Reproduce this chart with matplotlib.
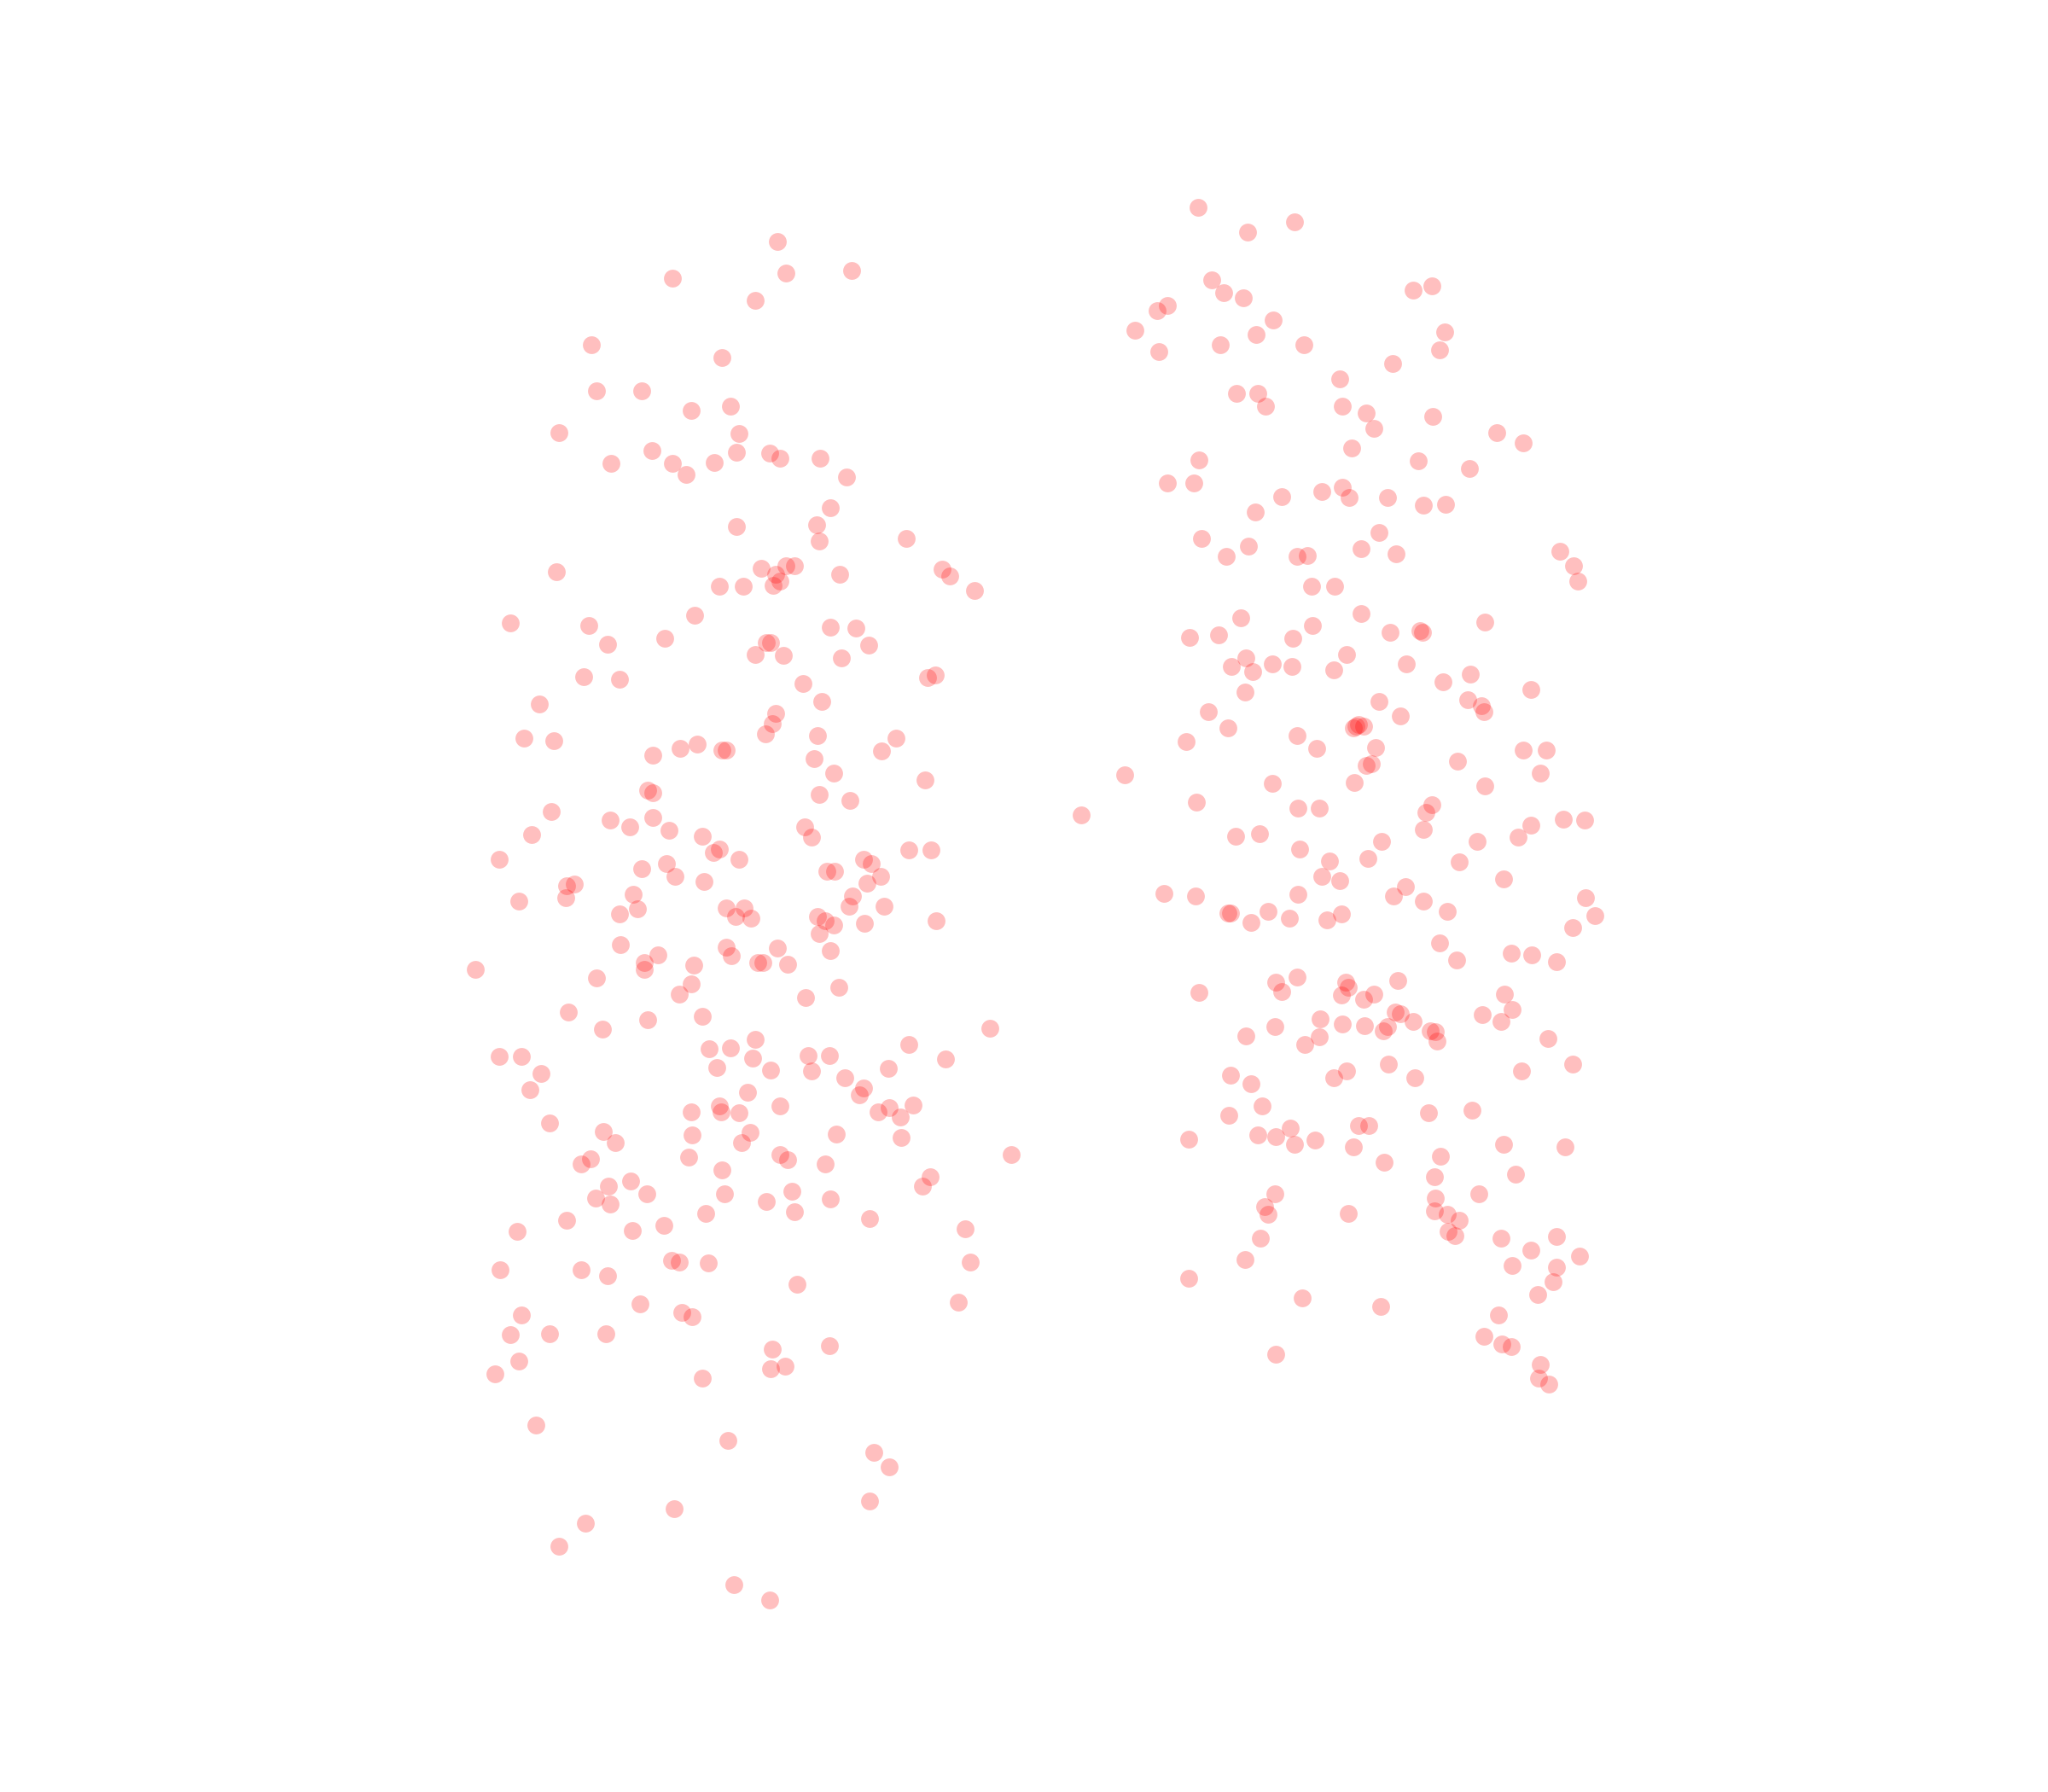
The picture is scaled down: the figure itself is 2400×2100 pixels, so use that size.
"""Two clusters of faint red dots, no axes."""
import matplotlib
matplotlib.use('Agg')
import matplotlib.pyplot as plt

# point positions (x right, y down, canvas 1568 x 1372)
left_pts = [
    (595, 185), (515, 213), (602, 209), (652, 207), (578, 230), (453, 264), (553, 274),
    (457, 299), (491, 299), (529, 314), (559, 311), (428, 331), (566, 332),
    (468, 355), (499, 345), (515, 355), (525, 363), (547, 354), (564, 346), (589, 347),
    (597, 351), (628, 351), (648, 365), (636, 389),
    (564, 403), (625, 402), (627, 414), (694, 412),
    (426, 438), (583, 435), (594, 440), (602, 433), (608, 433), (597, 445), (592, 448),
    (643, 440), (551, 449), (569, 449), (721, 436), (727, 441), (746, 452),
    (391, 477), (451, 479), (532, 471), (636, 480), (655, 481),
    (465, 493), (509, 489), (587, 492), (590, 492), (578, 501), (600, 502), (665, 494), (644, 504),
    (447, 518), (474, 520), (615, 523), (710, 519), (716, 517), (413, 539), (629, 537),
    (401, 565), (424, 567), (594, 546), (591, 554), (586, 562), (626, 563), (521, 573),
    (534, 570), (553, 574), (556, 574), (675, 575), (686, 565), (500, 578), (623, 581),
    (638, 592), (708, 597), (496, 605), (500, 607), (627, 608), (651, 613),
    (422, 621), (467, 628), (482, 633), (500, 626), (512, 636), (616, 633), (621, 641),
    (407, 639), (538, 640), (551, 650), (546, 653), (566, 658), (661, 658), (667, 661),
    (696, 651), (713, 651),
    (382, 658), (491, 665), (510, 661), (517, 671), (539, 675), (633, 667), (639, 667),
    (664, 676), (674, 671),
    (434, 678), (440, 677), (433, 687), (397, 690), (485, 685), (488, 696), (474, 700),
    (556, 695), (570, 695), (563, 702), (575, 703), (653, 686), (650, 694), (677, 694),
    (626, 702), (632, 705), (638, 708), (627, 715), (662, 707), (717, 705),
    (475, 723), (504, 731), (493, 737), (493, 742), (531, 739), (556, 725), (560, 732),
    (580, 737), (584, 737), (595, 726), (603, 738), (636, 728),
    (364, 742), (457, 749), (529, 753), (520, 761), (642, 756), (617, 764),
    (435, 775), (496, 781), (538, 778), (461, 788), (758, 787),
    (382, 809), (399, 809), (543, 803), (559, 802), (578, 796), (576, 810), (619, 808),
    (635, 808), (590, 819), (621, 820), (696, 800), (724, 811),
    (414, 822), (406, 834), (549, 817), (572, 836), (647, 825), (658, 838), (661, 833), (680, 818),
    (529, 851), (551, 847), (552, 851), (566, 852), (597, 847), (672, 851), (681, 848),
    (689, 855), (699, 846),
    (421, 860), (462, 866), (471, 875), (530, 869), (568, 875), (574, 867), (640, 868), (690, 871),
    (445, 891), (452, 887), (527, 886), (597, 884), (603, 888), (632, 891), (774, 884),
    (483, 904), (466, 908), (553, 896), (712, 901), (706, 908),
    (456, 917), (467, 922), (495, 914), (555, 914), (587, 920), (606, 912), (636, 918),
    (434, 934), (484, 942), (508, 938), (540, 929), (608, 928), (666, 933), (739, 941),
    (396, 943), (383, 972), (445, 972), (465, 977), (514, 965), (520, 966), (542, 967), (743, 966),
    (610, 983), (490, 998), (734, 997), (399, 1007), (522, 1005), (530, 1008),
    (391, 1022), (421, 1021), (464, 1021), (397, 1042), (591, 1033), (635, 1030),
    (379, 1052), (590, 1048), (601, 1046), (538, 1055), (410, 1091), (557, 1103),
    (669, 1112), (681, 1123), (666, 1149), (516, 1155), (448, 1166), (428, 1184),
    (562, 1213), (589, 1225),
]

right_pts = [
    (917, 159), (991, 170), (955, 178),
    (928, 214), (937, 224), (952, 228), (1082, 222), (1096, 219),
    (886, 238), (894, 234), (975, 245), (869, 253), (962, 256), (1106, 254),
    (887, 269), (934, 264), (998, 264), (1102, 268), (1066, 278), (1026, 290),
    (947, 301), (963, 301), (969, 311), (1028, 311), (1046, 316), (1052, 328), (1097, 319),
    (1146, 331), (1166, 339), (1035, 343), (918, 352), (1086, 353), (1125, 359),
    (894, 370), (914, 370), (981, 380), (1012, 376), (1028, 373), (1033, 381), (1062, 381),
    (961, 392), (1090, 387), (1107, 386),
    (920, 412), (956, 418), (939, 426), (993, 426), (1001, 425), (1042, 420), (1056, 408), (1069, 424),
    (1194, 422), (1205, 433), (1208, 445), (1004, 449), (1022, 449),
    (950, 473), (1042, 470), (1137, 476),
    (911, 488), (933, 486), (990, 489), (1005, 479), (1064, 484), (1087, 483), (1089, 484),
    (954, 504), (943, 510), (959, 514), (974, 508), (989, 510), (1031, 501), (1021, 513),
    (1077, 508), (1105, 522), (1126, 516), (1172, 528),
    (953, 530), (1124, 536), (1134, 540), (1136, 545),
    (925, 545), (940, 557), (1072, 548), (1056, 537),
    (993, 563), (1036, 557), (1040, 555), (1044, 556), (1038, 556),
    (908, 568), (1008, 573), (1053, 572), (1166, 574), (1184, 574),
    (861, 593), (1046, 586), (1050, 585), (1037, 599), (1116, 583), (1179, 592),
    (974, 600), (1137, 602),
    (828, 624), (916, 614), (994, 619), (1010, 619), (1092, 622), (1096, 616),
    (946, 640), (964, 638), (1058, 644), (1090, 635), (1131, 644), (1162, 641), (1172, 632),
    (1197, 627), (1213, 628),
    (995, 650), (1018, 659), (1047, 657), (1117, 660), (1012, 671), (1026, 674), (1151, 673),
    (891, 684), (915, 686), (994, 685), (1067, 686), (1076, 679), (1090, 690), (1108, 698),
    (940, 699), (942, 699), (958, 706), (971, 698), (987, 703), (1016, 704), (1027, 700),
    (1214, 687), (1221, 701), (1204, 710),
    (1102, 722), (1115, 735), (1157, 730), (1173, 731), (1192, 736),
    (918, 760), (977, 752), (981, 759), (993, 748), (1030, 752), (1027, 762), (1032, 756),
    (1044, 765), (1052, 761), (1070, 751),
    (1068, 775), (1072, 776), (1082, 782), (1152, 761), (1158, 773), (1135, 777), (1149, 782),
    (954, 793), (976, 786), (1011, 780), (1028, 784), (999, 800), (1010, 794), (1045, 785),
    (1059, 789), (1062, 786), (1095, 789), (1099, 790), (1100, 797),
    (942, 823), (958, 830), (1021, 825), (1031, 820), (1063, 815), (1083, 825), (1165, 820),
    (1185, 795), (1204, 815),
    (941, 854), (966, 847), (1094, 852), (1127, 850),
    (910, 872), (963, 869), (977, 870), (988, 864), (991, 876), (1007, 873), (1040, 862), (1048, 862),
    (1036, 878), (1060, 890), (1103, 885), (1151, 876), (1198, 878),
    (1098, 901), (1160, 899), (976, 914), (1099, 917), (1132, 914),
    (968, 924), (971, 930), (1032, 929), (1098, 927), (1108, 930), (1117, 934), (1109, 943), (1114, 946),
    (965, 948), (1149, 948), (1192, 947),
    (953, 964), (1158, 969), (1172, 957), (1192, 970), (1209, 962),
    (910, 979), (1189, 981), (997, 994), (1057, 1000), (1177, 991), (1147, 1007),
    (1136, 1023), (1150, 1029), (1157, 1031), (977, 1037),
    (1179, 1045), (1178, 1055), (1186, 1060),
]

x_vals = [p[0] for p in left_pts + right_pts]
y_vals = [p[1] for p in left_pts + right_pts]

fig = plt.figure(figsize=(8, 7), dpi=300)
ax = fig.add_axes([0, 0, 1, 1])
ax.scatter(x_vals, y_vals, s=25, color='red', alpha=0.25, linewidths=0)
ax.set_xlim(0, 1568)
ax.set_ylim(1372, 0)
ax.axis('off')

fig.savefig('out.png', dpi=300, facecolor='white')
plt.close(fig)
